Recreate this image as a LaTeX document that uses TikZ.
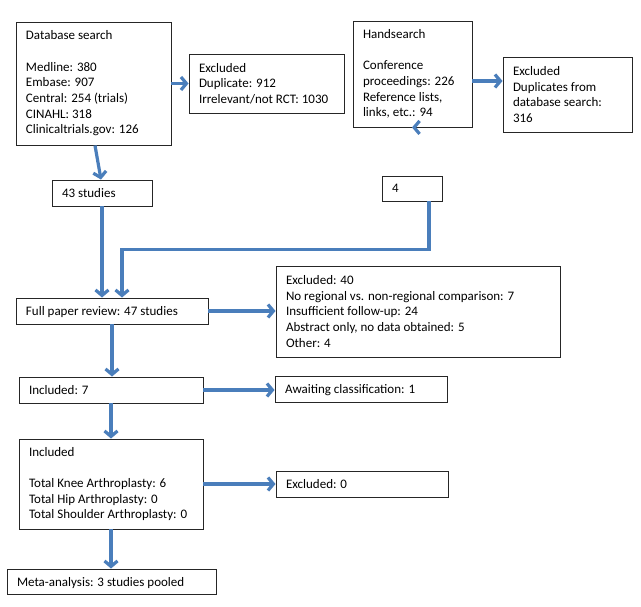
\documentclass[tikz,border=0pt]{standalone}
\usepackage{fontspec}
\setmainfont{Carlito}
\usetikzlibrary{arrows.meta}
\definecolor{arrowblue}{RGB}{74,126,187}
\tikzset{
  box/.style={draw=black!85, line width=0.9pt, fill=white, align=flush left, inner xsep=10pt, inner ysep=2pt,
    font={\fontsize{13}{15.7}\selectfont}},
  oneline/.style={box, text depth=0pt},
  flow/.style={draw=arrowblue, line width=3.2pt, -{Straight Barb[length=5.5pt,width=13pt]}}
}
\begin{document}
\begin{tikzpicture}[x=1pt,y=-1pt]
\useasboundingbox[fill=white] (0,0) rectangle (641,607);
\node[box, text width=135pt, minimum height=123pt] (A) at (93.5,83.5)
  {Database search\\\mbox{}\\Medline: 380\\Embase: 907\\Central: 254 (trials)\\CINAHL: 318\\Clinicaltrials.gov: 126};
\node[box, text width=135pt, minimum height=59pt] (B) at (266.5,83.5)
  {Excluded\\Duplicate: 912\\Irrelevant/not RCT: 1030};
\node[oneline, text width=80pt, minimum height=26pt] (n43) at (102,193) {43 studies};
\node[box, text width=99pt, minimum height=106pt] (H) at (412.5,74)
  {Handsearch\\\mbox{}\\Conference\\proceedings: 226\\Reference lists,\\links, etc.: 94};
\node[box, text width=109pt, minimum height=75pt] (E2) at (567.5,94.5)
  {Excluded\\Duplicates from\\database search:\\316};
\node[oneline, text width=40pt, minimum height=25pt] (n4) at (412,188.5) {4};
\node[oneline, text width=172pt, minimum height=26pt] (F) at (112,311) {Full paper review: 47 studies};
\node[box, text width=264pt, minimum height=91pt] (X40) at (418,311.5)
  {Excluded: 40\\No regional vs. non-regional comparison: 7\\Insufficient follow-up: 24\\Abstract only, no data obtained: 5\\Other: 4};
\node[oneline, text width=152pt, minimum height=26pt] (AW) at (361,389) {Awaiting classification: 1};
\node[oneline, text width=164pt, minimum height=26pt] (I7) at (111,390) {Included: 7};
\node[box, text width=164pt, minimum height=90pt] (I) at (111,484)
  {Included\\\mbox{}\\Total Knee Arthroplasty: 6\\Total Hip Arthroplasty: 0\\Total Shoulder Arthroplasty: 0};
\node[oneline, text width=152pt, minimum height=26pt] (X0) at (362,484) {Excluded: 0};
\node[oneline, text width=189pt, minimum height=25pt] (M) at (111.5,581.5) {Meta-analysis: 3 studies pooled};
\draw[flow] (A.east |- B.west) -- (B.west);
\draw[flow] ([xshift=1.5pt]A.south) -- ([xshift=-1pt]n43.north);
\draw[flow] ([yshift=-7pt]H.east) -- ([yshift=-7pt]H.east -| E2.west);
\draw[flow] (H.south) -- (H.south -| n4.north);
\draw[flow] (n43.south) -- (n43.south |- F.north);
\draw[flow] ([xshift=17pt]n4.south) |- ([xshift=10pt, yshift=48pt]F.north) -- ([xshift=10pt]F.north);
\draw[flow] (F.east) -- (F.east -| X40.west);
\draw[flow] (F.south) -- (F.south |- I7.north);
\draw[flow] (I7.east) -- (I7.east -| AW.west);
\draw[flow] (I7.south) -- (I7.south |- I.north);
\draw[flow] (I.east) -- (I.east -| X0.west);
\draw[flow] (I.south) -- (I.south |- M.north);
\end{tikzpicture}
\end{document}
